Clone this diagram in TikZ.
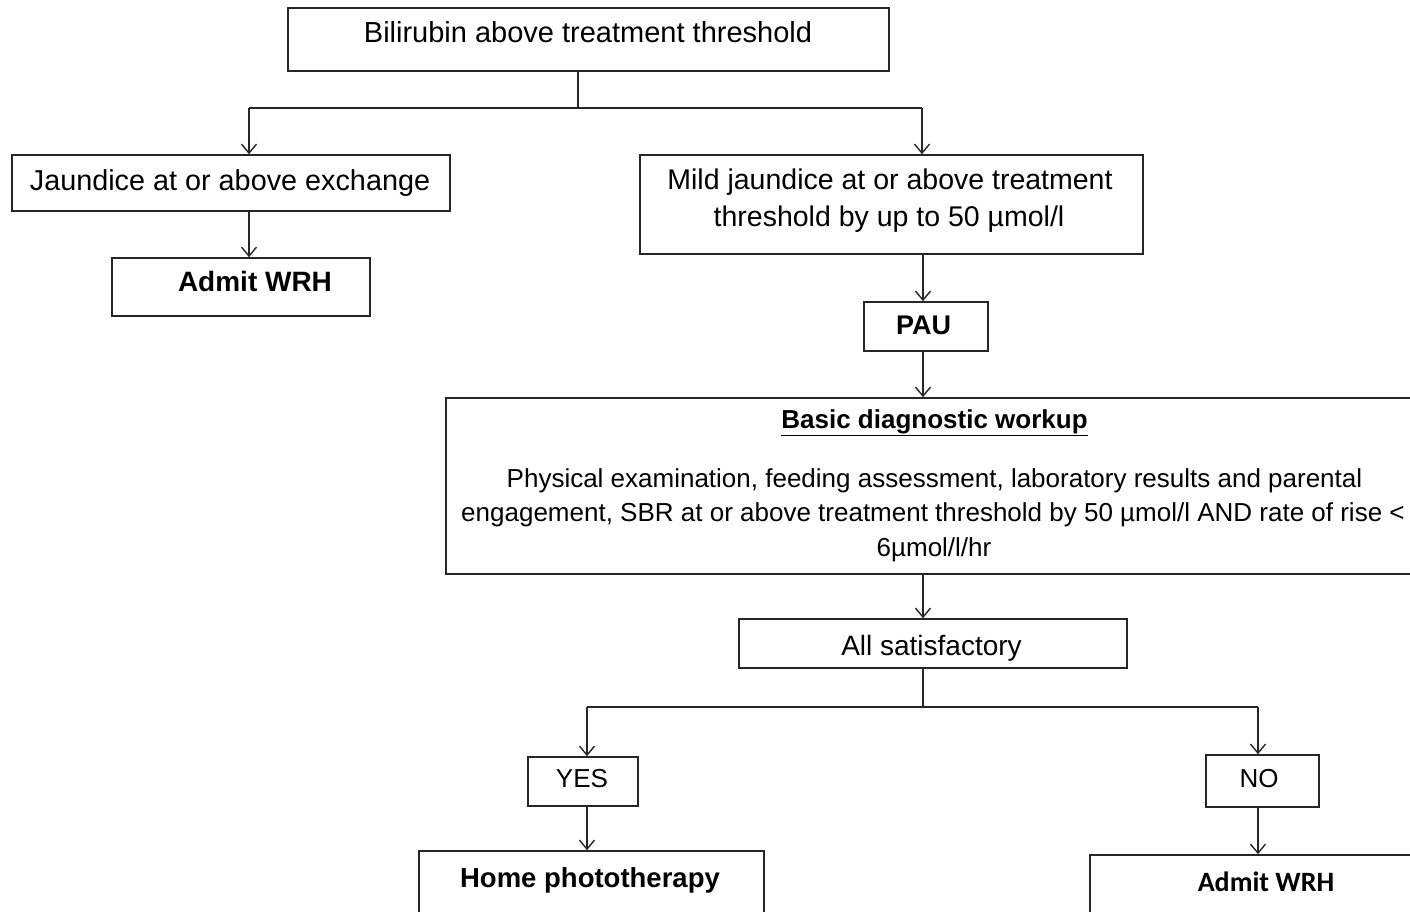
\documentclass[tikz,border=0pt]{standalone}
\usepackage{fontspec}
\setmainfont{Liberation Sans}
\newfontfamily\calibrifont{Carlito}
\usetikzlibrary{arrows.meta}

\tikzset{
  box/.style={draw=black!85, line width=1.6pt, fill=white, inner sep=0pt},
  arr/.style={draw=black!85, line width=1.4pt,
    -{Straight Barb[length=9pt, width=15pt]}},
  link/.style={draw=black!85, line width=1.4pt},
  txt/.style={anchor=base, inner sep=0pt, font=\fontsize{28}{34}\selectfont},
  bold/.style={txt, font=\fontsize{28}{34}\selectfont\bfseries},
}

\begin{document}
\begin{tikzpicture}[x=1pt, y=-1pt]
    % Page frame (picture is cut at right and bottom)
    \useasboundingbox (0,0) rectangle (1410,911);
    \fill[white] (0,0) rectangle (1410,911);
    \clip (0,0) rectangle (1410,911);

    % --- Boxes ---
    \node[box, minimum width=601, minimum height=63] (top) at (588.5,39.5) {};
    \node[box, minimum width=438, minimum height=56] (jaun) at (231,183) {};
    \node[box, minimum width=258, minimum height=58] (admitA) at (241,287) {};
    \node[box, minimum width=503, minimum height=99] (mild) at (891.5,204.5) {};
    \node[box, minimum width=124, minimum height=49] (pau) at (926,326.5) {};
    \node[box, minimum width=976, minimum height=176] (workup) at (934,486) {};
    \node[box, minimum width=388, minimum height=49] (allsat) at (933,643.5) {};
    \node[box, minimum width=110, minimum height=49] (yes) at (583,781.5) {};
    \node[box, minimum width=113, minimum height=52] (no) at (1262.5,781) {};
    \node[box, minimum width=345, minimum height=90] (home) at (591.5,896) {};
    \node[box, minimum width=352, minimum height=90] (admitB) at (1266,900) {};

    % --- Texts ---
    \node[txt, font=\fontsize{29}{34}\selectfont] (topT) at (588,42.5) {Bilirubin above treatment threshold};
    \node[txt, font=\fontsize{28.8}{34}\selectfont] (jaunT) at (230,190) {Jaundice at or above exchange};
    \node[bold] (admitAT) at (255,291) {Admit WRH};
    \node[txt, font=\fontsize{28.5}{34}\selectfont] (mildT1) at (890,189) {Mild jaundice at or above treatment};
    \node[txt, font=\fontsize{28.5}{34}\selectfont] (mildT2) at (889,226) {threshold by up to 50 µmol/l};
    \node[bold, font=\fontsize{27}{32}\selectfont\bfseries] (pauT) at (923.5,334) {PAU};
    \node[bold, font=\fontsize{26}{32}\selectfont\bfseries] (workupT) at (934.5,428) {\underline{Basic diagnostic workup}};
    \node[txt, font=\fontsize{26}{32}\selectfont] (bodyT1) at (934.5,487) {Physical examination, feeding assessment, laboratory results and parental};
    \node[txt, font=\fontsize{26}{32}\selectfont] (bodyT2) at (933,521.5) {engagement, SBR at or above treatment threshold by 50 µmol/l AND rate of rise <};
    \node[txt, font=\fontsize{26}{32}\selectfont] (bodyT3) at (934,556) {6µmol/l/hr};
    \node[txt] (allsatT) at (931.5,655) {All satisfactory};
    \node[txt, font=\fontsize{26}{32}\selectfont] (yesT) at (582,787) {YES};
    \node[txt, font=\fontsize{26}{32}\selectfont] (noT) at (1259,787) {NO};
    \node[bold, font=\fontsize{27.5}{32}\selectfont\bfseries] (homeT) at (590,887) {Home phototherapy};
    \node[bold, font=\fontsize{28}{32}\selectfont\calibrifont\bfseries] (admitBT) at (1266,891) {Admit WRH};

    % --- Connectors ---
    \coordinate (fork) at (578,108);
    \coordinate (forkL) at (249,108);
    \coordinate (forkR) at (922,108);
    \draw[link] (fork |- top.south) -- (fork);
    \draw[link] (forkL) -- (forkR);
    \draw[arr] (forkL) -- (forkL |- jaun.north);
    \draw[arr] (forkR) -- (forkR |- mild.north);
    \draw[arr] (forkL |- jaun.south) -- (forkL |- admitA.north);

    \coordinate (spine) at (923,600);
    \draw[arr] (spine |- mild.south) -- (spine |- pau.north);
    \draw[arr] (spine |- pau.south) -- (spine |- workup.north);
    \draw[arr] (spine |- workup.south) -- (spine |- allsat.north);

    \coordinate (split) at (923,707);
    \coordinate (splitL) at (587,707);
    \coordinate (splitR) at (1258,707);
    \draw[link] (spine |- allsat.south) -- (split);
    \draw[link] (splitL) -- (splitR);
    \draw[arr] (splitL) -- (splitL |- yes.north);
    \draw[arr] (splitR) -- (splitR |- no.north);
    \draw[arr] (splitL |- yes.south) -- (splitL |- home.north);
    \draw[arr] (splitR |- no.south) -- (splitR |- admitB.north);
\end{tikzpicture}
\end{document}
